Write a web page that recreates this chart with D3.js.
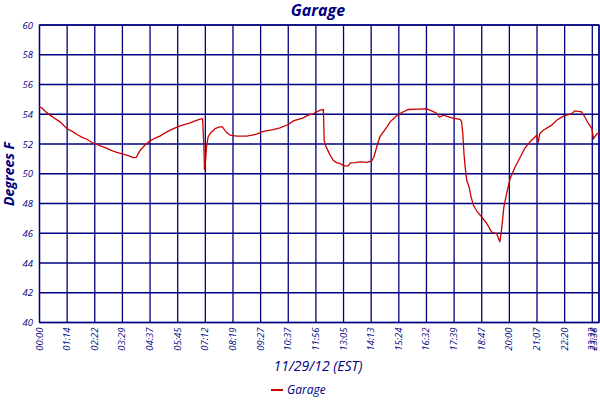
<!DOCTYPE html>
<html><head><meta charset="utf-8">
<script src="https://cdn.jsdelivr.net/npm/d3@7"></script>
<style>body{margin:0;background:#fff;} text{font-family:"Open Sans",sans-serif;font-style:italic;fill:#000080;}</style>
</head><body>
<svg id="c" width="600" height="400"></svg>
<script>
const title = "Garage";
const seriesName = "Garage";
const yLabel = "Degrees F";
const xLabel = "11/29/12 (EST)";
const sampleIndex = [0,7,14,27,40,52,69,83,95,108,120,133,145,156,171,183,196,209,221,238,245,255,268,280,293,306,318,331,344,356,369,382,394,407,413,416,418,421,423,427,432,436,445,456,463,474,483,500,525,550,563,576,592,609,630,643,668,681,694,711,719,721,724,732,736,744,753,761,770,782,787,799,812,829,841,847,854,862,871,880,888,901,913,934,960,981,993,1007,1013,1023,1044,1065,1069,1072,1075,1078,1082,1088,1093,1099,1109,1120,1133,1145,1158,1166,1171,1176,1183,1192,1204,1217,1229,1242,1259,1263,1267,1276,1297,1310,1327,1348,1356,1373,1382,1390,1399,1403,1412,1417];
const temperature = [54.5,54.4,54.2,53.94,53.7,53.49,53.04,52.85,52.64,52.45,52.32,52.1,51.97,51.85,51.7,51.55,51.43,51.33,51.25,51.09,51.1,51.58,51.95,52.21,52.4,52.55,52.75,52.93,53.08,53.22,53.32,53.42,53.55,53.67,53.7,52.0,50.24,51.0,51.8,52.48,52.7,52.81,53.04,53.15,53.15,52.77,52.59,52.53,52.53,52.66,52.81,52.9,52.97,53.08,53.31,53.55,53.76,53.94,54.05,54.28,54.32,52.26,51.92,51.47,51.25,50.9,50.73,50.69,50.53,50.53,50.73,50.75,50.8,50.76,50.84,51.13,51.8,52.48,52.81,53.15,53.49,53.82,54.05,54.32,54.34,54.36,54.23,54.05,53.8,53.94,53.76,53.65,53.5,52.7,51.36,50.46,49.56,49.11,48.44,47.88,47.43,47.09,46.65,46.08,45.97,45.41,46.42,47.76,48.67,49.68,50.42,51.09,51.7,52.14,52.59,52.1,52.7,52.93,53.27,53.6,53.87,54.05,54.23,54.16,53.78,53.38,53.04,52.37,52.7,52.7];
const xTickIndex = [0,70,140,210,280,350,420,490,560,630,700,770,840,910,980,1050,1120,1190,1260,1330,1400,1417];
const xTickLabels = ["00:00","01:14","02:22","03:29","04:37","05:45","07:12","08:19","09:27","10:37","11:56","13:05","14:13","15:24","16:32","17:39","18:47","20:00","21:07","22:20","23:32","23:38"];
const yTicks = [40,42,44,46,48,50,52,54,56,58,60];

const navy = "#000080", red = "#cc0000";
const svg = d3.select("#c");
const L = 39.5, R = 599, T = 25, B = 322.5;
const x = d3.scaleLinear().domain([0, 1417]).range([L, R]);
const y = d3.scaleLinear().domain([40, 60]).range([B, T]);

// grid
const g = svg.append("g");
g.selectAll("line.v").data(xTickIndex).join("line")
  .attr("x1", d => x(d)).attr("x2", d => x(d)).attr("y1", T).attr("y2", B)
  .attr("stroke", navy).attr("stroke-width", 1.3);
g.selectAll("line.h").data(yTicks).join("line")
  .attr("x1", L).attr("x2", R).attr("y1", d => y(d)).attr("y2", d => y(d))
  .attr("stroke", navy).attr("stroke-width", 1.3);
g.append("rect").attr("x", L).attr("y", T).attr("width", R - L).attr("height", B - T)
  .attr("fill", "none").attr("stroke", navy).attr("stroke-width", 1.3);

// y axis labels
svg.append("g").selectAll("text").data(yTicks).join("text")
  .attr("x", 33).attr("y", d => y(d) + 3.5).attr("text-anchor", "end")
  .attr("font-size", 9.5).text(d => d);

// x axis labels
svg.append("g").selectAll("text").data(xTickIndex).join("text")
  .attr("transform", (d, i) => {
    let px = x(d) + 3;
    if (i === xTickIndex.length - 1) px = Math.min(px, 597);
    return `translate(${px},${B + 5}) rotate(-90)`;
  })
  .attr("text-anchor", "end").attr("font-size", 9.5)
  .text((d, i) => xTickLabels[i]);

// line
const data = sampleIndex.map((s, i) => ({s, v: temperature[i]}));
svg.append("path").datum(data)
  .attr("fill", "none").attr("stroke", red).attr("stroke-width", 1.3)
  .attr("d", d3.line().x(d => x(d.s)).y(d => y(d.v)));

// titles
svg.append("text").attr("x", 318).attr("y", 16).attr("text-anchor", "middle")
  .attr("font-size", 16).attr("font-weight", "bold").text(title);
svg.append("text").attr("transform", "translate(14,174) rotate(-90)")
  .attr("text-anchor", "middle").attr("font-size", 14).attr("font-weight", "bold").text(yLabel);
svg.append("text").attr("x", 318).attr("y", 371).attr("text-anchor", "middle")
  .attr("font-size", 14).text(xLabel);

// legend
svg.append("line").attr("x1", 271).attr("x2", 283).attr("y1", 390).attr("y2", 390)
  .attr("stroke", red).attr("stroke-width", 2);
svg.append("text").attr("x", 287).attr("y", 394).attr("font-size", 12).text(seriesName);
</script>
</body></html>
